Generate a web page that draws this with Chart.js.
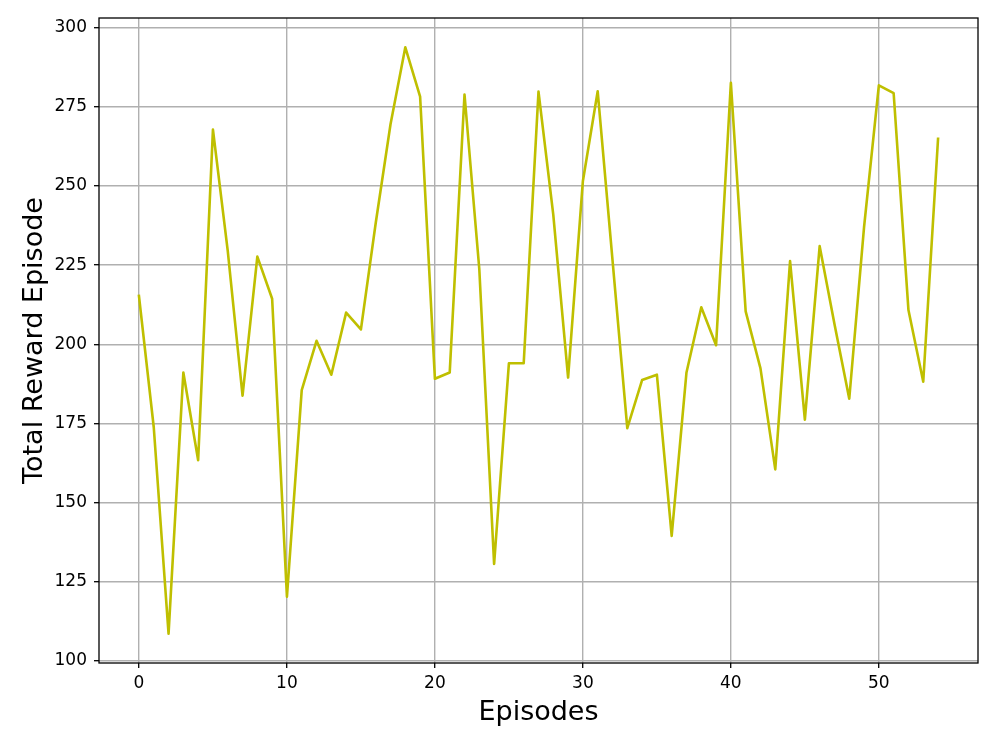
<!DOCTYPE html>
<html lang="en">
<head>
    <meta charset="UTF-8">
    <title>Total Reward per Episode</title>
    <script src="https://cdn.jsdelivr.net/npm/chart.js"></script>
    <style>
        body {
            margin: 0;
            background: white;
        }
        canvas {
            display: block;
        }
    </style>
</head>
<body>
    <canvas id="rewardChart" width="997" height="747"></canvas>

    <script>
        // Values
        const rewards = [215.3, 173.8, 108.6, 191.1, 163.4, 267.8, 229.5, 183.8, 227.7, 214.4,
                         120.3, 185.5, 201.1, 190.4, 210.0, 204.7, 238.3, 269.5, 293.8, 278.2,
                         189.1, 191.1, 278.9, 223.7, 130.6, 194.0, 194.0, 279.8, 240.9, 189.5,
                         251.6, 279.9, 226.7, 173.5, 188.7, 190.4, 139.5, 191.1, 211.7, 199.7,
                         282.6, 210.4, 192.4, 160.5, 226.3, 176.2, 231.0, 206.4, 182.8, 237.0,
                         281.8, 279.3, 210.8, 188.2, 264.9];
        const xTicks = [0, 10, 20, 30, 40, 50];
        const yTicks = [100, 125, 150, 175, 200, 225, 250, 275, 300];

        // matplotlib-style 5% margins around the data
        const xPad = (rewards.length - 1) * 0.05;
        const yLo = Math.min(...rewards), yHi = Math.max(...rewards);
        const yPad = (yHi - yLo) * 0.05;

        const tickFont = { family: 'DejaVu Sans', size: 17 };
        const titleFont = { family: 'DejaVu Sans', size: 27 };

        // black box round the plot area, like the axes spines
        const frame = {
            id: 'frame',
            afterDraw(chart) {
                const a = chart.chartArea, c = chart.ctx;
                c.save();
                c.strokeStyle = '#000';
                c.lineWidth = 1.3;
                c.strokeRect(a.left, a.top, a.right - a.left, a.bottom - a.top);
                c.restore();
            }
        };

        const ctx = document.getElementById('rewardChart').getContext('2d');
        new Chart(ctx, {
            type: 'line',
            data: {
                datasets: [{
                    data: rewards.map((r, i) => ({ x: i, y: r })),
                    borderColor: '#bfbf00',
                    borderWidth: 2.6,
                    borderJoinStyle: 'round',
                    borderCapStyle: 'square',
                    pointRadius: 0,
                    tension: 0,
                    fill: false
                }]
            },
            options: {
                responsive: false,
                animation: false,
                devicePixelRatio: 1,
                layout: { padding: { top: 18, right: 19, left: 0, bottom: 0 } },
                plugins: {
                    legend: { display: false },
                    tooltip: { enabled: false }
                },
                scales: {
                    x: {
                        type: 'linear',
                        min: -xPad,
                        max: rewards.length - 1 + xPad,
                        afterBuildTicks: s => { s.ticks = xTicks.map(v => ({ value: v })); },
                        afterFit: s => { s.height = 84; },
                        grid: { color: '#b0b0b0', lineWidth: 1.4, tickLength: 5, tickColor: '#000', tickWidth: 1.3 },
                        border: { display: false },
                        ticks: { font: tickFont, color: '#000', padding: 5, maxRotation: 0 },
                        title: { display: true, text: 'Episodes', font: titleFont, color: '#000', padding: { top: 0, bottom: 18 } }
                    },
                    y: {
                        min: yLo - yPad,
                        max: yHi + yPad,
                        afterBuildTicks: s => { s.ticks = yTicks.map(v => ({ value: v })); },
                        afterFit: s => { s.width = 99; },
                        grid: { color: '#b0b0b0', lineWidth: 1.4, tickLength: 5, tickColor: '#000', tickWidth: 1.3 },
                        border: { display: false },
                        ticks: { font: tickFont, color: '#000', padding: 7 },
                        title: { display: true, text: 'Total Reward Episode', font: titleFont, color: '#000', padding: { top: 19, bottom: 0 } }
                    }
                }
            },
            plugins: [frame]
        });
    </script>
</body>
</html>
